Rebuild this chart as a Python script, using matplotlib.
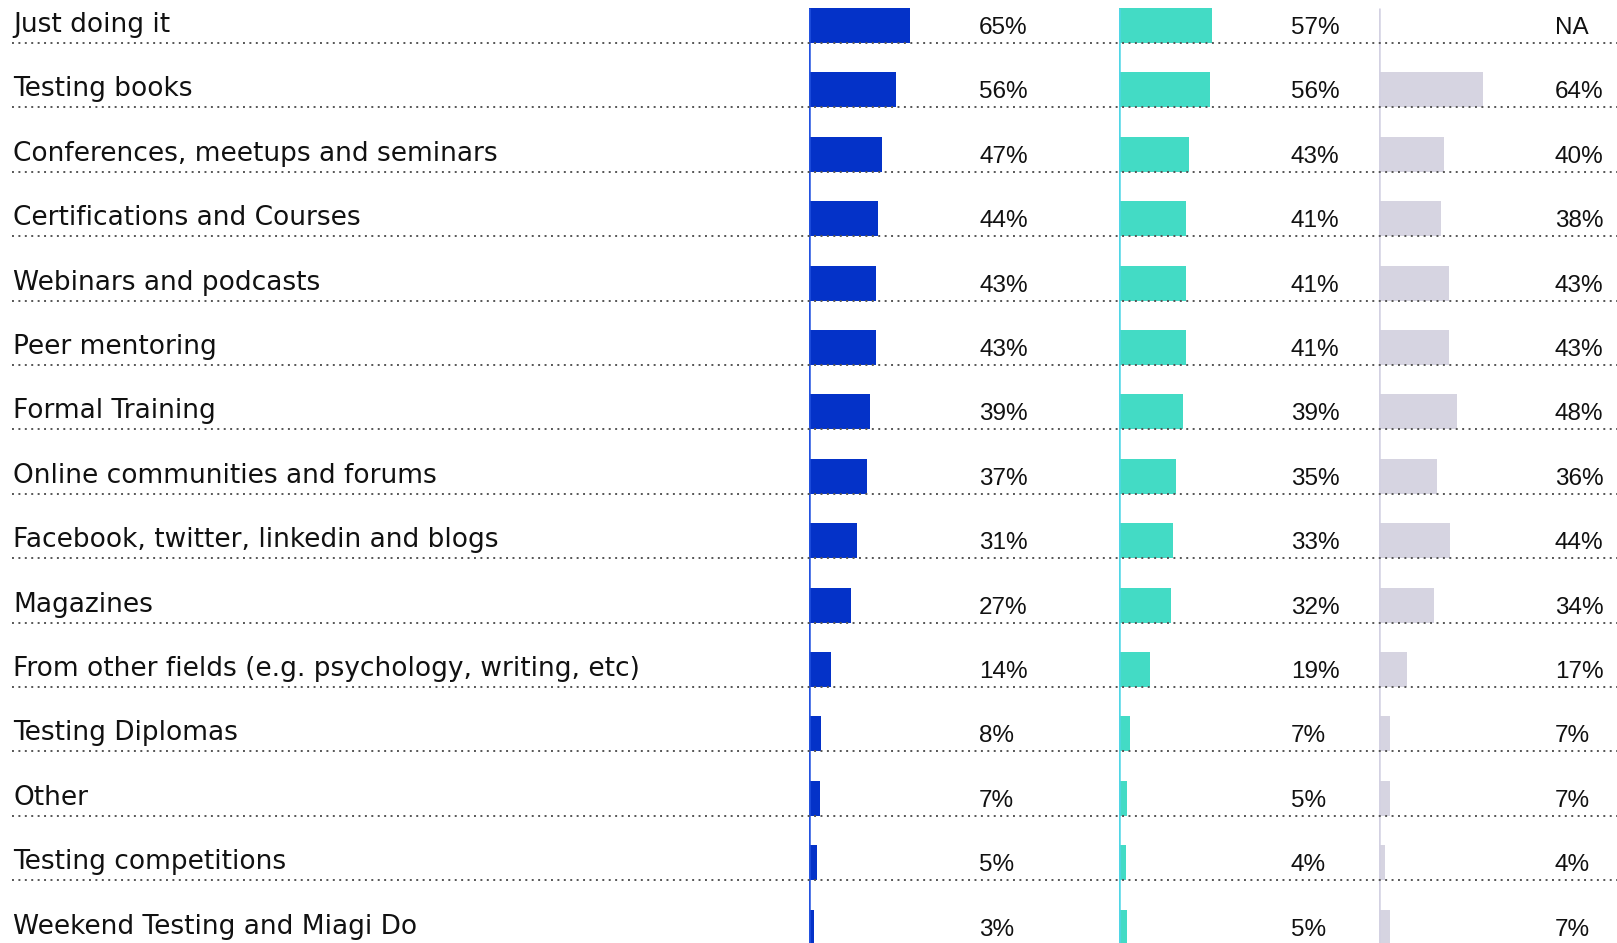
import matplotlib.pyplot as plt

categories = ['Just doing it', 'Testing books', 'Conferences, meetups and seminars',
              'Certifications and Courses', 'Webinars and podcasts', 'Peer mentoring',
              'Formal Training', 'Online communities and forums',
              'Facebook, twitter, linkedin and blogs', 'Magazines',
              'From other fields (e.g. psychology, writing, etc)', 'Testing Diplomas',
              'Other', 'Testing competitions', 'Weekend Testing and Miagi Do']
blue_vals = [65, 56, 47, 44, 43, 43, 39, 37, 31, 27, 14, 8, 7, 5, 3]
teal_vals = [57, 56, 43, 41, 41, 41, 39, 35, 33, 32, 19, 7, 5, 4, 5]
gray_vals = [None, 64, 40, 38, 43, 43, 48, 36, 44, 34, 17, 7, 7, 4, 7]

W, H = 1617, 943
fig = plt.figure(figsize=(W / 100, H / 100), dpi=100)

# rows: bar centre of row i at pixel 25.5 + 64.4*i from the top
pitch = 64.4
ylim = ((H - 25.5) / pitch, -25.5 / pitch)
bar_h = 35 / pitch
n = len(categories)
rows = list(range(n))

main = fig.add_axes([0, 0, 1, 1])
main.set_xlim(0, 1)
main.set_ylim(*ylim)
main.axis('off')
main.patch.set_alpha(0)
main.set_zorder(3)

for i, cat in enumerate(categories):
    line_y = i + bar_h / 2
    main.plot([12 / W, 1], [line_y, line_y], color='#555555', lw=1.4,
              linestyle=(0, (1, 2.3)))
    main.text(13 / W, line_y - 11 / pitch, cat, fontsize=19, family='DejaVu Sans',
              color='#111111', va='baseline', ha='left')

# (left px, px per %, bar colour, axis line colour, label offset in %, values)
columns = [
    (809, 1.56, '#0432c8', '#2352e0', 109, blue_vals),
    (1119, 1.63, '#43dbc5', '#4fd6e6', 105.5, teal_vals),
    (1379, 1.62, '#d6d4e1', '#d3d1e2', 108.6, gray_vals),
]

for left, scale, color, lcolor, lab_x, vals in columns:
    ax = fig.add_axes([left / W, 0, 100 * scale / W, 1])
    ax.set_xlim(0, 100)
    ax.set_ylim(*ylim)
    ax.axis('off')
    ax.patch.set_alpha(0)
    ax.set_zorder(1)
    widths = [v if v is not None else 0 for v in vals]
    ax.barh(rows, widths, height=bar_h, color=color, align='center')
    ax.vlines(0, -bar_h / 2, ylim[0], color=lcolor, lw=1.8)
    for i, v in enumerate(vals):
        txt = 'NA' if v is None else f'{v}%'
        ax.text(lab_x, i + 8.5 / pitch, txt, fontsize=17.5, family='Liberation Sans',
                color='#111111', va='baseline', ha='left', clip_on=False)

fig.savefig('out.png', dpi=100)
